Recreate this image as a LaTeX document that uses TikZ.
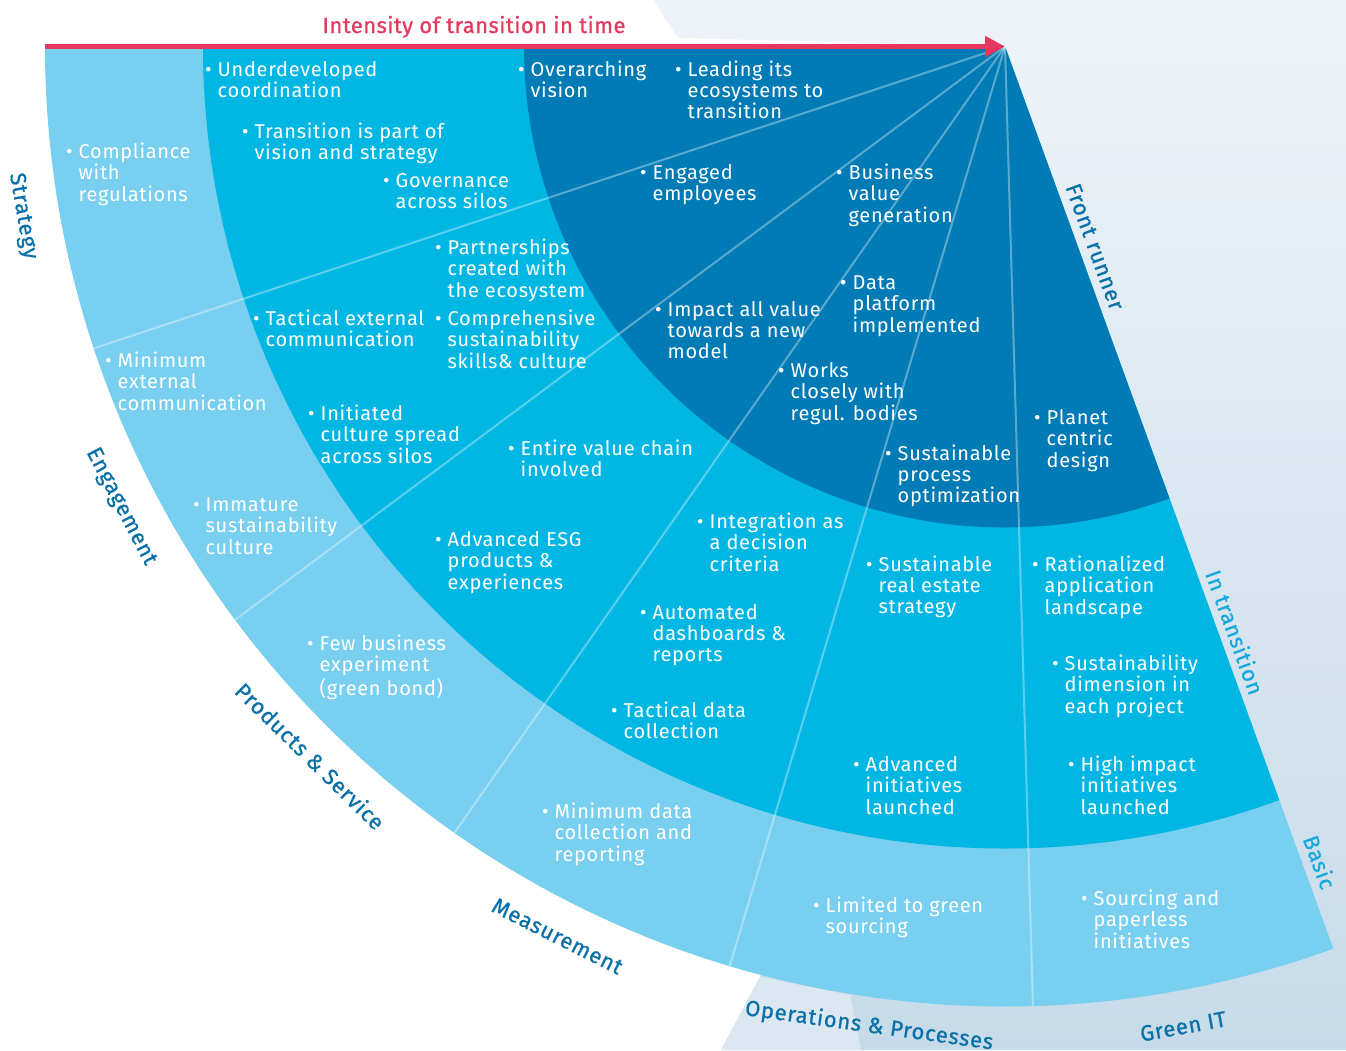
\documentclass[tikz,border=0pt]{standalone}
\usepackage{fontspec}
\setmainfont{Fira Sans}
\newfontfamily\bodyfam[LetterSpace=3.5]{Fira Sans}
\newfontfamily\labfont[FakeBold=0.8,LetterSpace=3.5]{Fira Sans}
\newfontfamily\titfont[FakeBold=0.8,LetterSpace=2]{Fira Sans}
\usetikzlibrary{arrows.meta,calc}
\definecolor{basicC}{HTML}{79CFF0}
\definecolor{transC}{HTML}{00B7E4}
\definecolor{frontC}{HTML}{007BB5}
\definecolor{catC}{HTML}{0A70A8}
\definecolor{cyanL}{HTML}{17A9DD}
\definecolor{titleC}{HTML}{E6385E}
\definecolor{bgTop}{HTML}{EEF3F8}
\definecolor{bgBot}{HTML}{C6DBE9}
\definecolor{bgBand}{HTML}{DCE8F1}
\newcommand\mybody{\bodyfam\fontsize{20}{21}\selectfont}
\newcommand\itm[1]{\textbullet\hspace{6pt}\begin{tabular}[t]{@{}l@{}}#1\end{tabular}}
\begin{document}
\begin{tikzpicture}[x=1pt,y=1pt]
\tikzset{
  item/.style={anchor=base west, inner sep=0pt, text=white, font=\mybody},
  cat/.style={text=catC, inner sep=0pt, font=\labfont\fontsize{22}{24}\selectfont},
  ringlab/.style={inner sep=0pt, rotate=-70, font=\labfont\fontsize{22}{24}\selectfont},
  divline/.style={draw=white, draw opacity=0.35, line width=2pt},
}
\useasboundingbox (0,0) rectangle (1346,-1050);
\coordinate (C) at (1005,-46.5);
\coordinate (arrowstart) at (45,-46.5);
% background
\shade[top color=bgTop, bottom color=bgBot] (653,0) -- (1346,0) -- (1346,-1050) -- (721,-1050) -- (760,-977) -- (C) -- (678,-38) -- cycle;
\fill[bgBand] (721,-1050) -- (760,-977) -- (850,-995) -- (861,-1050) -- cycle;
% fan
\fill[basicC] (C) -- ++(180:960) arc[start angle=180,end angle=290,radius=960pt] -- cycle;
\fill[transC] (C) -- ++(180:802) arc[start angle=180,end angle=290,radius=802pt] -- cycle;
\fill[frontC] (C) -- ++(180:481) arc[start angle=180,end angle=290,radius=481pt] -- cycle;
\foreach \a in {198.33,216.67,235,253.33,271.67}
  \draw[divline] (C) -- ($(C)+(\a:960)$);
% arrow and title
\draw[titleC, line width=5pt, -{Triangle[length=20pt,width=20pt]}] (arrowstart) -- (C);
\node[anchor=base, inner sep=0pt, text=titleC, font=\titfont\fontsize{22}{24}\selectfont] (title) at (474,-33) {Intensity of transition in time};
% basic ring items
\node[item] (i1) at (66,-158) {\itm{Compliance\\with\\regulations}};
\node[item] (i2) at (105,-367) {\itm{Minimum\\external\\communication}};
\node[item] (i3) at (193,-511) {\itm{Immature\\sustainability\\culture}};
\node[item] (i4) at (307,-650) {\itm{Few business\\experiment\\(green bond)}};
\node[item] (i5) at (542,-818) {\itm{Minimum data\\collection and\\reporting}};
\node[item] (i6) at (813,-912) {\itm{Limited to green\\sourcing}};
\node[item] (i7) at (1081,-905) {\itm{Sourcing and\\paperless\\initiatives}};
% transition ring items
\node[item] (i8) at (205,-76) {\itm{Underdeveloped\\coordination}};
\node[item] (i9) at (242,-138) {\itm{Transition is part of\\vision and strategy}};
\node[item] (i10) at (383,-187) {\itm{Governance\\across silos}};
\node[item] (i11) at (435,-254) {\itm{Partnerships\\created with\\the ecosystem}};
\node[item] (i12) at (253,-325) {\itm{Tactical external\\communication}};
\node[item] (i13) at (435,-325) {\itm{Comprehensive\\sustainability\\skills\& culture}};
\node[item] (i14) at (308,-420) {\itm{Initiated\\culture spread\\across silos}};
\node[item] (i15) at (508,-455) {\itm{Entire value chain\\involved}};
\node[item] (i16) at (435,-546) {\itm{Advanced ESG\\products \&\\experiences}};
\node[item] (i17) at (697,-528) {\itm{Integration as\\a decision\\criteria}};
\node[item] (i18) at (640,-619) {\itm{Automated\\dashboards \&\\reports}};
\node[item] (i19) at (611,-717) {\itm{Tactical data\\collection}};
\node[item] (i20) at (866,-571) {\itm{Sustainable\\real estate\\strategy}};
\node[item] (i21) at (853,-771) {\itm{Advanced\\initiatives\\launched}};
\node[item] (i22) at (1032,-571) {\itm{Rationalized\\application\\landscape}};
\node[item] (i23) at (1052,-670) {\itm{Sustainability\\dimension in\\each project}};
\node[item] (i24) at (1068,-771) {\itm{High impact\\initiatives\\launched}};
% front runner items
\node[item] (i25) at (518,-76) {\itm{Overarching\\vision}};
\node[item] (i26) at (675,-76) {\itm{Leading its\\ecosystems to\\transition}};
\node[item] (i27) at (640,-179) {\itm{Engaged\\employees}};
\node[item] (i28) at (836,-179) {\itm{Business\\value\\generation}};
\node[item] (i29) at (655,-316) {\itm{Impact all value\\towards a new\\model}};
\node[item] (i30) at (840,-289) {\itm{Data\\platform\\implemented}};
\node[item] (i31) at (778,-377) {\itm{Works\\closely with\\regul. bodies}};
\node[item] (i32) at (885,-460) {\itm{Sustainable\\process\\optimization}};
\node[item] (i33) at (1034,-424) {\itm{Planet\\centric\\design}};
% category labels
\foreach \a/\r/\t [count=\i] in {189.8/997/Strategy, 207.5/997/Engagement, 225.6/993/Products \& Service, 243.3/996/Measurement, 262.1/989/Operations \& Processes, 280.3/996/Green IT}
  \node[cat, rotate=\a+90] (cat\i) at ($(C)+(\a:\r)$) {\t};
% ring labels
\node[ringlab, text=catC] (rFront) at ($(C)+(290:219)+(20:16)$) {Front runner};
\node[ringlab, text=cyanL] (rTrans) at ($(C)+(290:629)+(20:16)$) {In transition};
\node[ringlab, text=cyanL] (rBasic) at ($(C)+(290:874)+(20:17)$) {Basic};
\end{tikzpicture}
\end{document}
